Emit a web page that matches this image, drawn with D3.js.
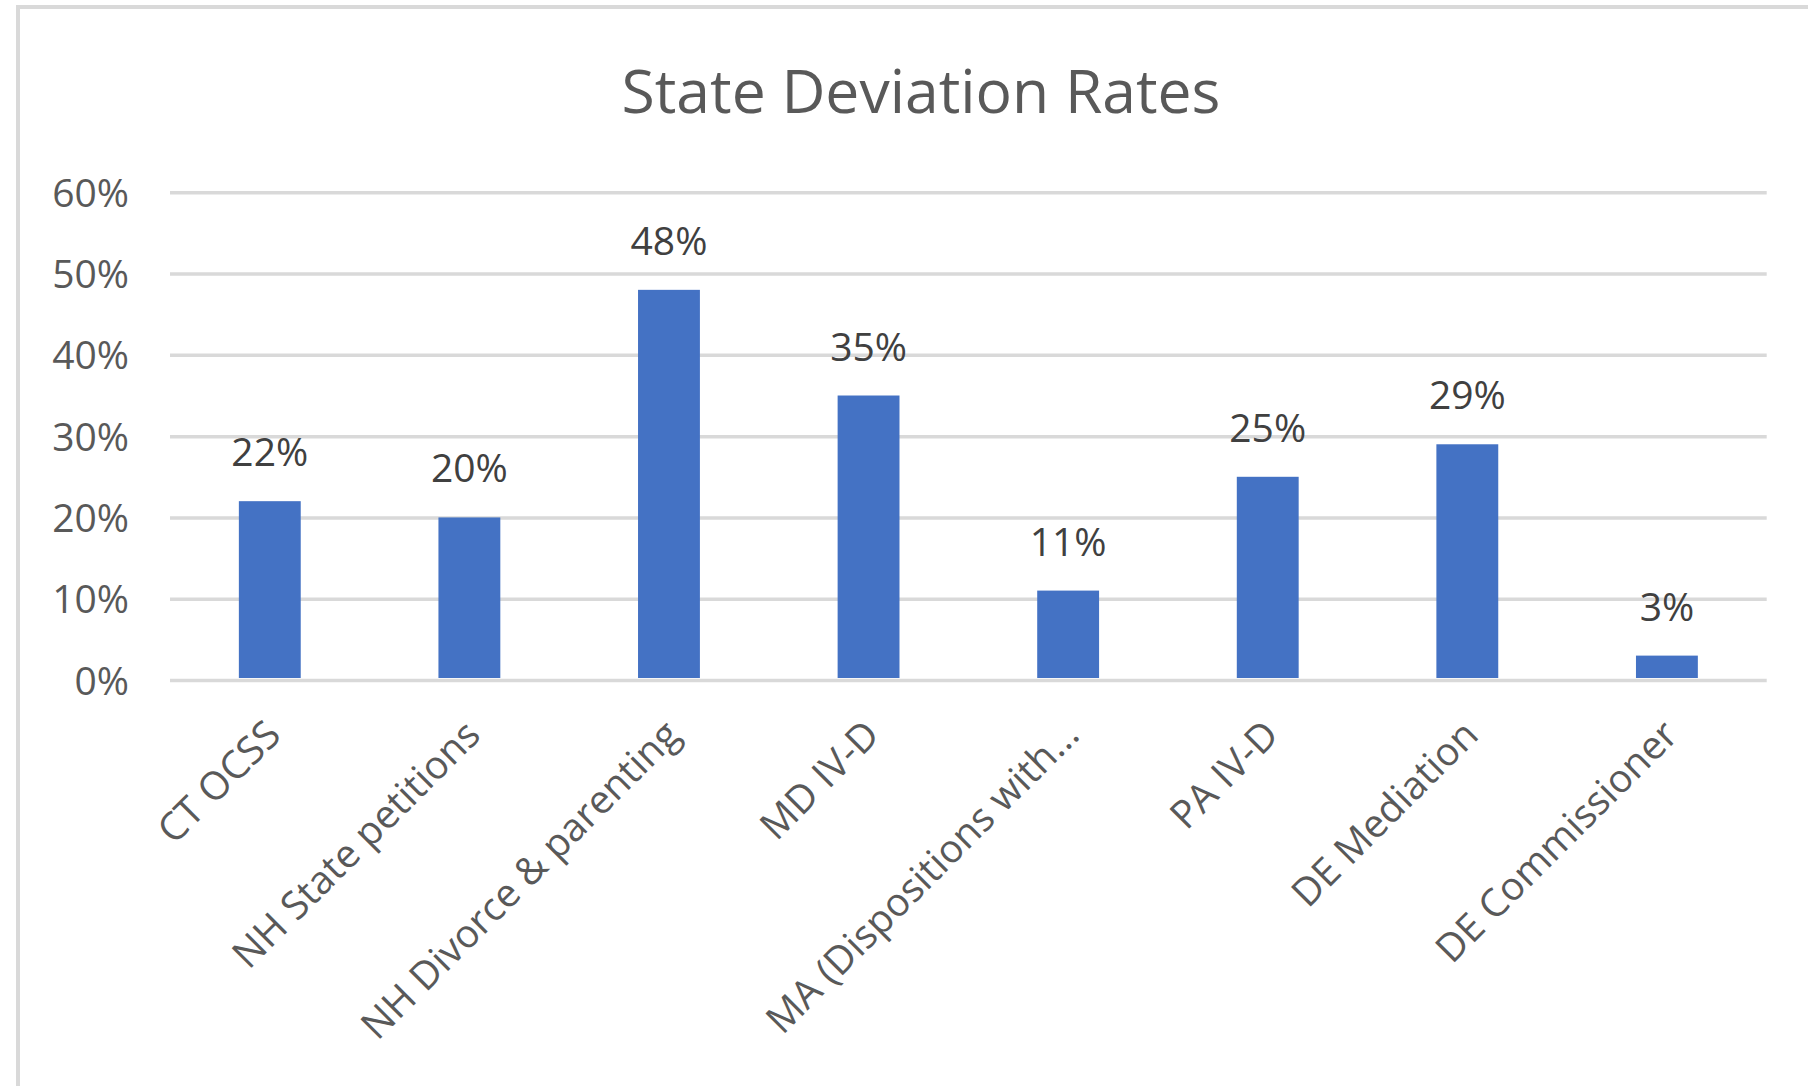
<!DOCTYPE html>
<html>
<head>
<meta charset="utf-8">
<title>State Deviation Rates</title>
<script src="https://cdn.jsdelivr.net/npm/d3@7"></script>
<style>
  html, body { margin: 0; padding: 0; background: #ffffff; }
  svg { display: block; }
  text { font-family: "Open Sans", "Noto Sans", sans-serif; }
</style>
</head>
<body>
<div id="chart"></div>
<script>
// Chart data
const categories = [
  "CT OCSS",
  "NH State petitions",
  "NH Divorce & parenting",
  "MD IV-D",
  "MA (Dispositions with...",
  "PA IV-D",
  "DE Mediation",
  "DE Commissioner"
];
const rates = [0.22, 0.20, 0.48, 0.35, 0.11, 0.25, 0.29, 0.03];
const yTicks = [0, 0.1, 0.2, 0.3, 0.4, 0.5, 0.6];
const chartTitle = "State Deviation Rates";

const W = 1808, H = 1086;
const plot = { left: 170, right: 1766.7, top: 192.3, bottom: 680 };

const svg = d3.select("#chart").append("svg")
  .attr("width", W).attr("height", H);

svg.append("rect").attr("width", W).attr("height", H).attr("fill", "#ffffff");

// chart area outline (runs off the right and bottom edges)
svg.append("rect")
  .attr("x", 18).attr("y", 7)
  .attr("width", W + 40).attr("height", H + 40)
  .attr("fill", "none")
  .attr("stroke", "#d9d9d9")
  .attr("stroke-width", 4);

const x = d3.scaleBand()
  .domain(categories)
  .range([plot.left, plot.right])
  .paddingInner(0.69)
  .paddingOuter(0.345);

const y = d3.scaleLinear()
  .domain([0, 0.6])
  .range([plot.bottom, plot.top]);

// title
svg.append("text")
  .attr("x", 921).attr("y", 112.7)
  .attr("text-anchor", "middle")
  .attr("fill", "#595959")
  .attr("font-size", 60.6)
  .text(chartTitle);

// horizontal gridlines + percentage labels
const yAxis = d3.axisLeft(y)
  .tickValues(yTicks)
  .tickFormat(d3.format(".0%"))
  .tickSize(-(plot.right - plot.left))
  .tickPadding(41);

const gy = svg.append("g")
  .attr("transform", `translate(${plot.left},0)`)
  .call(yAxis);
gy.select(".domain").remove();
gy.selectAll(".tick line")
  .attr("stroke", "#d9d9d9")
  .attr("stroke-width", 3.5);
gy.selectAll(".tick text")
  .attr("fill", "#595959")
  .attr("font-size", 39)
  .attr("dy", "0.36em");

// bars
svg.append("g").selectAll("rect")
  .data(rates)
  .join("rect")
  .attr("x", (d, i) => x(categories[i]))
  .attr("y", d => y(d))
  .attr("width", x.bandwidth())
  .attr("height", d => y(0) - y(d) - 2)
  .attr("fill", "#4472c4");

// value labels above bars
svg.append("g").selectAll("text")
  .data(rates)
  .join("text")
  .attr("x", (d, i) => x(categories[i]) + x.bandwidth() / 2)
  .attr("y", d => y(d) - 35)
  .attr("text-anchor", "middle")
  .attr("fill", "#404040")
  .attr("font-size", 39)
  .text(d => d3.format(".0%")(d));

// rotated category labels
const xAxis = d3.axisBottom(x).tickSize(0).tickPadding(0);
const gx = svg.append("g")
  .attr("transform", `translate(0,${plot.bottom})`)
  .call(xAxis);
gx.select(".domain").remove();
gx.selectAll(".tick text")
  .attr("fill", "#595959")
  .attr("font-size", 39)
  .attr("text-anchor", "end")
  .attr("dy", null)
  .attr("y", null)
  .attr("transform", "translate(13,57) rotate(-45)");
</script>
</body>
</html>
